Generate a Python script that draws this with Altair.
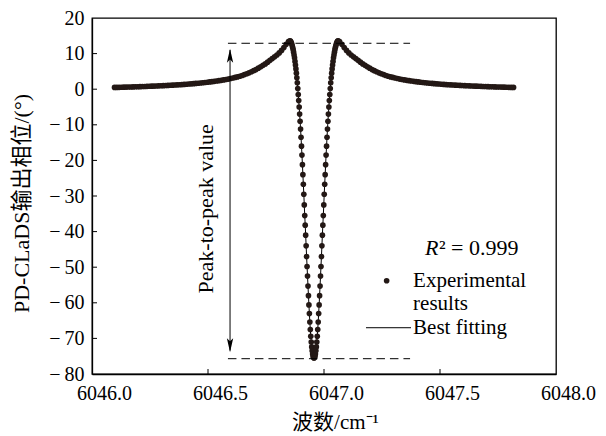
import altair as alt
import pandas as pd

# ---------------- data ----------------
# left wing (thick overlapping dots)
xl = [6046.097, 6046.107, 6046.117, 6046.127, 6046.137, 6046.147, 6046.157, 6046.167, 6046.177, 6046.187,
      6046.197, 6046.207, 6046.217, 6046.227, 6046.237, 6046.247, 6046.257, 6046.267, 6046.277, 6046.287,
      6046.297, 6046.307, 6046.317, 6046.327, 6046.337, 6046.347, 6046.357, 6046.367, 6046.377, 6046.387,
      6046.397, 6046.407, 6046.417, 6046.427, 6046.437, 6046.447, 6046.457, 6046.467, 6046.477, 6046.487,
      6046.497, 6046.507, 6046.517, 6046.527, 6046.537, 6046.547, 6046.557, 6046.567, 6046.577, 6046.587,
      6046.597, 6046.607, 6046.617, 6046.627, 6046.637, 6046.647, 6046.657, 6046.667, 6046.677, 6046.687,
      6046.697, 6046.707, 6046.717, 6046.727, 6046.737, 6046.747, 6046.757, 6046.767, 6046.777, 6046.787,
      6046.797, 6046.807, 6046.817, 6046.827, 6046.837, 6046.847]
yl = [0.5, 0.51, 0.53, 0.55, 0.57, 0.59, 0.61, 0.63, 0.65, 0.68,
      0.7, 0.72, 0.75, 0.77, 0.8, 0.82, 0.85, 0.88, 0.91, 0.94,
      0.97, 1.0, 1.04, 1.07, 1.1, 1.14, 1.18, 1.22, 1.26, 1.3,
      1.35, 1.4, 1.45, 1.5, 1.56, 1.62, 1.68, 1.75, 1.82, 1.89,
      1.96, 2.04, 2.12, 2.2, 2.3, 2.4, 2.5, 2.6, 2.72, 2.85,
      3.0, 3.15, 3.3, 3.45, 3.65, 3.85, 4.1, 4.35, 4.6, 4.9,
      5.2, 5.5, 5.9, 6.3, 6.7, 7.1, 7.6, 8.1, 8.6, 9.1,
      9.6, 10.2, 10.9, 11.7, 12.6, 13.4]

# central dip (separate dots)
xc = [6046.853, 6046.855, 6046.857, 6046.859, 6046.861, 6046.863, 6046.865, 6046.867, 6046.869, 6046.871,
      6046.873, 6046.875, 6046.877, 6046.879, 6046.881, 6046.883, 6046.885, 6046.887, 6046.889, 6046.891,
      6046.893, 6046.895, 6046.897, 6046.899, 6046.901, 6046.903, 6046.905, 6046.907, 6046.909, 6046.911,
      6046.913, 6046.915, 6046.917, 6046.919, 6046.921, 6046.923, 6046.925, 6046.927, 6046.929, 6046.931,
      6046.933, 6046.935, 6046.937, 6046.939, 6046.941, 6046.943, 6046.945, 6046.947, 6046.949, 6046.951,
      6046.953, 6046.955, 6046.957, 6046.959, 6046.961, 6046.963, 6046.965, 6046.967, 6046.969, 6046.971,
      6046.973, 6046.975, 6046.977, 6046.979, 6046.981, 6046.983, 6046.985, 6046.987, 6046.989, 6046.991,
      6046.993, 6046.995, 6046.997, 6046.999, 6047.001, 6047.003, 6047.005, 6047.007, 6047.009, 6047.011,
      6047.013, 6047.015, 6047.017, 6047.019, 6047.021, 6047.023, 6047.025, 6047.027, 6047.029, 6047.031,
      6047.033, 6047.035, 6047.037, 6047.039, 6047.041, 6047.043, 6047.045, 6047.047, 6047.049, 6047.051,
      6047.053, 6047.055, 6047.057, 6047.059, 6047.061]
yc = [13.6, 13.5, 13.3, 13.0, 12.7, 12.2, 11.7, 11.1, 10.4, 9.6,
      8.8, 7.8, 6.8, 5.7, 4.5, 3.2, 1.8, 0.2, -1.5, -3.2,
      -5.0, -7.0, -9.0, -11.2, -13.5, -16.0, -18.5, -21.2, -24.0, -26.7,
      -29.5, -32.5, -35.5, -38.2, -41.0, -44.0, -47.0, -49.8, -52.5, -55.3,
      -58.0, -60.6, -63.0, -65.4, -67.5, -69.4, -71.0, -72.4, -73.5, -74.4,
      -75.0, -75.4, -75.5, -75.4, -75.0, -74.4, -73.5, -72.4, -71.0, -69.4,
      -67.5, -65.4, -63.0, -60.6, -58.0, -55.3, -52.5, -49.8, -47.0, -44.0,
      -41.0, -38.2, -35.5, -32.5, -29.5, -26.7, -24.0, -21.2, -18.5, -16.0,
      -13.5, -11.2, -9.0, -7.0, -5.0, -3.2, -1.5, 0.2, 1.8, 3.2,
      4.5, 5.7, 6.8, 7.8, 8.8, 9.6, 10.4, 11.1, 11.7, 12.2,
      12.7, 13.0, 13.3, 13.5, 13.6]

# right wing
xr = [6047.067, 6047.077, 6047.087, 6047.097, 6047.107, 6047.117, 6047.127, 6047.137, 6047.147, 6047.157,
      6047.167, 6047.177, 6047.187, 6047.197, 6047.207, 6047.217, 6047.227, 6047.237, 6047.247, 6047.257,
      6047.267, 6047.277, 6047.287, 6047.297, 6047.307, 6047.317, 6047.327, 6047.337, 6047.347, 6047.357,
      6047.367, 6047.377, 6047.387, 6047.397, 6047.407, 6047.417, 6047.427, 6047.437, 6047.447, 6047.457,
      6047.467, 6047.477, 6047.487, 6047.497, 6047.507, 6047.517, 6047.527, 6047.537, 6047.547, 6047.557,
      6047.567, 6047.577, 6047.587, 6047.597, 6047.607, 6047.617, 6047.627, 6047.637, 6047.647, 6047.657,
      6047.667, 6047.677, 6047.687, 6047.697, 6047.707, 6047.717, 6047.727, 6047.737, 6047.747, 6047.757,
      6047.767, 6047.777, 6047.787, 6047.797, 6047.807, 6047.817]
yr = [13.4, 12.6, 11.7, 10.9, 10.2, 9.6, 9.1, 8.6, 8.1, 7.6,
      7.1, 6.7, 6.3, 5.9, 5.5, 5.2, 4.9, 4.6, 4.35, 4.1,
      3.85, 3.65, 3.45, 3.3, 3.15, 3.0, 2.85, 2.72, 2.6, 2.5,
      2.4, 2.3, 2.2, 2.12, 2.04, 1.96, 1.89, 1.82, 1.75, 1.68,
      1.62, 1.56, 1.5, 1.45, 1.4, 1.35, 1.3, 1.26, 1.22, 1.18,
      1.14, 1.1, 1.07, 1.04, 1.0, 0.97, 0.94, 0.91, 0.88, 0.85,
      0.82, 0.8, 0.77, 0.75, 0.72, 0.7, 0.68, 0.65, 0.63, 0.61,
      0.59, 0.57, 0.55, 0.53, 0.51, 0.5]

x_ticks = [6046.0, 6046.5, 6047.0, 6047.5, 6048.0]
y_ticks = [-80, -70, -60, -50, -40, -30, -20, -10, 0, 10, 20]

# annotation values
peak_top = 12.9
peak_bottom = -75.7
dash_x = [6046.586, 6047.371]
arrow_x = 6046.595
arrow_y = [11.0, -73.4]
head_centers = [9.4, -71.9]

LATIN = "Liberation Serif"
MIXED = "Liberation Serif, Noto Sans CJK SC"
INK = "#231815"
W, H = 464, 356

df = pd.DataFrame({"x": xl + xc + xr, "y": yl + yc + yr})

xscale = alt.Scale(domain=[6046.0, 6048.0], nice=False, zero=False)
yscale = alt.Scale(domain=[-80, 20], nice=False, zero=False)

xaxis = alt.Axis(values=x_ticks, format=".1f", ticks=False, grid=False, labelFlush=False,
                 labelOverlap=False, labelPadding=9, labelOffset=12, titlePadding=8,
                 title="波数/cm⁻¹", titleX=243, titleFontSize=21)
yaxis = alt.Axis(values=y_ticks, ticks=False, grid=False, labelFlush=False, labelOverlap=False,
                 labelPadding=8, titlePadding=15, title="PD-CLaDS输出相位/(°)", titleY=185,
                 titleFontSize=22,
                 labelExpr="datum.value < 0 ? '−\u2009' + format(-datum.value, 'd') : format(datum.value, 'd')")

X = alt.X("x:Q", scale=xscale, axis=xaxis)
Y = alt.Y("y:Q", scale=yscale, axis=yaxis)

fit = alt.Chart(df).mark_line(color="black", strokeWidth=1).encode(x=X, y=Y, order="x:Q")
pts = alt.Chart(df).mark_circle(size=32, color=INK, opacity=1).encode(x=X, y=Y)

dash_df = pd.DataFrame({"x": [dash_x[0], dash_x[0]], "x2": [dash_x[1], dash_x[1]],
                        "y": [peak_top, peak_bottom]})
dash = alt.Chart(dash_df).mark_rule(color="black", strokeWidth=1, strokeDash=[8.5, 5]).encode(
    x=X, x2="x2:Q", y=Y)

arr_df = pd.DataFrame({"x": [arrow_x], "y": [arrow_y[0]], "y2": [arrow_y[1]]})
arrow = alt.Chart(arr_df).mark_rule(color="black", strokeWidth=1).encode(x=X, y=Y, y2="y2:Q")

up_df = pd.DataFrame({"x": [arrow_x], "y": [head_centers[0]]})
dn_df = pd.DataFrame({"x": [arrow_x], "y": [head_centers[1]]})
head_up = alt.Chart(up_df).mark_point(shape="M0,-1L0.45,1L0,0.55L-0.45,1Z", filled=True, size=196,
                                      color="black", opacity=1, strokeWidth=0).encode(x=X, y=Y)
head_dn = alt.Chart(dn_df).mark_point(shape="M0,1L0.45,-1L0,-0.55L-0.45,-1Z", filled=True, size=196,
                                      color="black", opacity=1, strokeWidth=0).encode(x=X, y=Y)

xt_df = pd.DataFrame({"x": x_ticks[1:-1]})
xt = alt.Chart(xt_df).mark_rule(color="black", strokeWidth=1).encode(
    x=X, y=alt.value(H), y2=alt.value(H - 5))
yt_df = pd.DataFrame({"y": y_ticks[1:-1]})
yt = alt.Chart(yt_df).mark_rule(color="black", strokeWidth=1).encode(
    y=Y, x=alt.value(0), x2=alt.value(5))

ptp_df = pd.DataFrame({"x": [6046.49], "y": [-33.6], "t": ["Peak-to-peak value"]})
ptp = alt.Chart(ptp_df).mark_text(angle=270, font=LATIN, fontSize=22, color="black",
                                  align="center", baseline="middle").encode(x=X, y=Y, text="t:N")

r_df = pd.DataFrame({"x": [6047.435], "y": [-44.5], "t": ["R"]})
r_txt = alt.Chart(r_df).mark_text(font=LATIN, fontSize=22, fontStyle="italic", color="black",
                                  align="left", baseline="middle").encode(x=X, y=Y, text="t:N")
r2_df = pd.DataFrame({"x": [6047.435], "y": [-44.5], "t": ["² = 0.999"]})
r2_txt = alt.Chart(r2_df).mark_text(font=LATIN, fontSize=22, color="black", dx=14,
                                    align="left", baseline="middle").encode(x=X, y=Y, text="t:N")

leg_dot_df = pd.DataFrame({"x": [6047.27], "y": [-53.8]})
leg_dot = alt.Chart(leg_dot_df).mark_circle(size=32, color=INK, opacity=1).encode(x=X, y=Y)
leg_line_df = pd.DataFrame({"x": [6047.181], "x2": [6047.375], "y": [-67.0]})
leg_line = alt.Chart(leg_line_df).mark_rule(color="black", strokeWidth=1).encode(x=X, x2="x2:Q", y=Y)
leg_txt_df = pd.DataFrame({"x": [6047.384, 6047.384, 6047.384], "y": [-54.0, -60.2, -67.0],
                           "t": ["Experimental", "results", "Best fitting"]})
leg_txt = alt.Chart(leg_txt_df).mark_text(font=LATIN, fontSize=21, color="black",
                                          align="left", baseline="middle").encode(x=X, y=Y, text="t:N")

chart = alt.layer(fit, pts, dash, arrow, head_up, head_dn, xt, yt, ptp, r_txt, r2_txt,
                  leg_dot, leg_line, leg_txt).properties(
    width=W, height=H,
    autosize=alt.AutoSizeParams(type="none"),
    padding={"left": 84, "top": 10, "right": 42, "bottom": 62},
).configure_view(stroke="black", strokeWidth=1.3).configure_axis(
    domainColor="black", domainWidth=1.3,
    labelFont=LATIN, labelFontSize=20, labelColor="black",
    titleFont=MIXED, titleFontSize=20, titleFontWeight="normal", titleColor="black",
)

chart.save("out.html", embed_options={"renderer": "svg", "actions": False})
